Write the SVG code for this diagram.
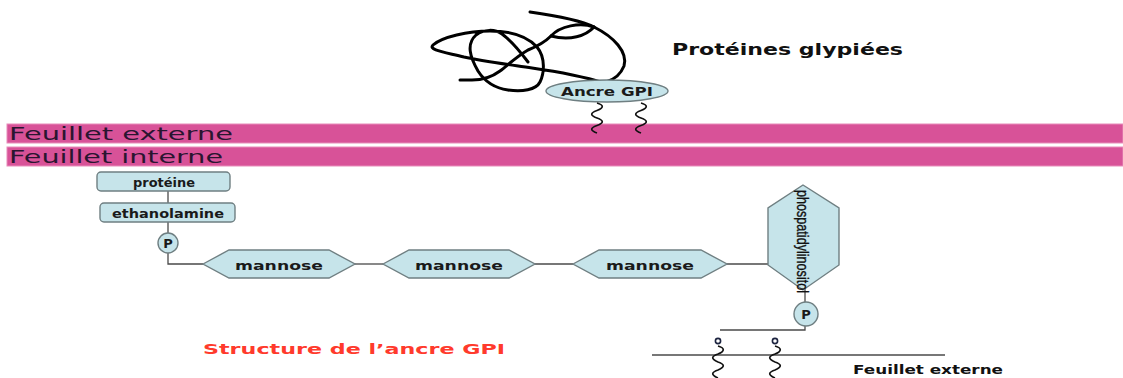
<svg xmlns="http://www.w3.org/2000/svg" width="1123" height="378" viewBox="0 0 1123 378">
  <defs>
    <style>
      .band { fill: #d85298; stroke: #e88cba; stroke-width: 1; }
      .bandtxt { font-family: "DejaVu Sans", "Liberation Sans", sans-serif; font-size: 17px; fill: #2a1530; }
      .node { fill: #c6e4ea; stroke: #6f7f82; stroke-width: 1.4; }
      .lbl { font-family: "DejaVu Sans", "Liberation Sans", sans-serif; font-weight: bold; font-size: 13px; fill: #1a1a1a; text-anchor: middle; }
      .link { stroke: #4a4a4a; stroke-width: 1.3; fill: none; }
      .chain { stroke: #111; stroke-width: 1.7; fill: none; }
      .coil { stroke: #000; stroke-width: 3; fill: none; stroke-linecap: round; stroke-linejoin: round; }
      .title { font-family: "DejaVu Sans", "Liberation Sans", sans-serif; font-weight: bold; fill: #111; }
    </style>
  </defs>

  <rect width="1123" height="378" fill="#ffffff"/>

  <!-- membrane leaflets -->
  <g id="feuillet-externe">
    <rect class="band" x="7" y="124" width="1116" height="19"/>
    <text class="bandtxt" x="9" y="140" textLength="224" lengthAdjust="spacingAndGlyphs">Feuillet externe</text>
  </g>
  <g id="feuillet-interne">
    <rect class="band" x="7" y="147" width="1116" height="19"/>
    <text class="bandtxt" x="9" y="163" textLength="214" lengthAdjust="spacingAndGlyphs">Feuillet interne</text>
  </g>

  <!-- coiled protein chain -->
  <g id="proteine-glypiee">
    <path class="coil" d="M530,12 C558,16 580,20 594,27 C614,37 628,52 624,66 C620,76 613,80 606,82"/>
    <path class="coil" d="M594,27 C580,22 560,26 551,36 C544,43 538,46 528,50 C516,57 508,65 500,71 C492,77 482,80 472,80 L460,80"/>
    <path class="coil" d="M594,27 C586,36 570,41 551,36"/>
    <path class="coil" d="M604,83 C585,77 560,72 532,68 C505,64 482,61 464,57 C444,52 428,50 433,45 C442,37 468,31 490,31 C512,31 528,37 537,47 C546,58 544,74 540,82 C536,90 522,92 508,90 C494,88 485,82 478,71 C470,57 466,44 476,35 C484,29 495,29 502,34 C513,42 522,54 528,62"/>
    <text class="title" x="672" y="55" font-size="15.5" textLength="231" lengthAdjust="spacingAndGlyphs">Protéines glypiées</text>
  </g>

  <g id="ancre-gpi">
    <ellipse class="node" cx="607" cy="91" rx="61" ry="11"/>
    <text class="lbl" x="607" y="96" font-size="13.5" textLength="92" lengthAdjust="spacingAndGlyphs">Ancre GPI</text>
    <path class="chain" d="M597,103 c7,2 7,5 0,7.5 c-7,2.5 -7,5 0,7.5 c7,2.5 7,5 0,7.5 c-7,2.5 -7,5 0,7.5"/>
    <path class="chain" d="M641,103 c7,2 7,5 0,7.5 c-7,2.5 -7,5 0,7.5 c7,2.5 7,5 0,7.5 c-7,2.5 -7,5 0,7.5"/>
  </g>

  <!-- connectors of the anchor structure -->
  <g id="connecteurs">
    <line class="link" x1="168" y1="191" x2="168" y2="203"/>
    <line class="link" x1="168" y1="222" x2="168" y2="233"/>
    <polyline class="link" points="168,253 168,264 203,264"/>
    <line class="link" x1="355" y1="264" x2="383" y2="264"/>
    <line class="link" x1="535" y1="264" x2="573" y2="264"/>
    <line class="link" x1="727" y1="264" x2="768" y2="264"/>
    <line class="link" x1="805" y1="289" x2="805" y2="302"/>
    <polyline class="link" points="805,326 805,330 720,330"/>
    <line class="link" x1="652" y1="355" x2="945" y2="355"/>
  </g>

  <g id="proteine">
    <rect class="node" x="97" y="172" width="133" height="19" rx="4"/>
    <text class="lbl" x="164" y="186.5" textLength="62" lengthAdjust="spacingAndGlyphs">protéine</text>
  </g>
  <g id="ethanolamine">
    <rect class="node" x="100" y="203" width="135" height="19" rx="4"/>
    <text class="lbl" x="168" y="217.5" textLength="112" lengthAdjust="spacingAndGlyphs">ethanolamine</text>
  </g>
  <g id="phosphate-1">
    <circle class="node" cx="168" cy="243" r="10"/>
    <text class="lbl" x="168" y="247.5" font-size="11">P</text>
  </g>

  <g id="mannose-1">
    <polygon class="node" points="203,264 229,250 329,250 355,264 329,278 229,278"/>
    <text class="lbl" x="279" y="269.5" font-size="14.5" textLength="88" lengthAdjust="spacingAndGlyphs">mannose</text>
  </g>
  <g id="mannose-2">
    <polygon class="node" points="383,264 409,250 509,250 535,264 509,278 409,278"/>
    <text class="lbl" x="459" y="269.5" font-size="14.5" textLength="88" lengthAdjust="spacingAndGlyphs">mannose</text>
  </g>
  <g id="mannose-3">
    <polygon class="node" points="573,264 599,250 701,250 727,264 701,278 599,278"/>
    <text class="lbl" x="650" y="269.5" font-size="14.5" textLength="88" lengthAdjust="spacingAndGlyphs">mannose</text>
  </g>

  <g id="phosphatidylinositol">
    <polygon class="node" points="803,185 839,208 839,265 803,290 768,265 768,208"/>
    <text font-family="'Liberation Sans', sans-serif" font-size="16" fill="#111" stroke="#111" stroke-width="0.35" x="0" y="0"
          transform="translate(797,190) rotate(90)" textLength="103" lengthAdjust="spacingAndGlyphs">phospatidylinositol</text>
  </g>
  <g id="phosphate-2">
    <circle class="node" cx="806" cy="314" r="12"/>
    <text class="lbl" x="806" y="318.5" font-size="11">P</text>
  </g>

  <!-- lipid chains anchored in the outer leaflet -->
  <g id="chaines-lipidiques">
    <circle cx="718" cy="341" r="2.6" fill="#fff" stroke="#1d2440" stroke-width="1.6"/>
    <circle cx="775" cy="341" r="2.6" fill="#fff" stroke="#1d2440" stroke-width="1.6"/>
    <path class="chain" d="M718,346 c7,2 7,5 0,8 c-7,2.5 -7,5 0,8 c7,2.5 7,5 0,8 c-7,2.5 -7,5 0,8"/>
    <path class="chain" d="M775,346 c7,2 7,5 0,8 c-7,2.5 -7,5 0,8 c7,2.5 7,5 0,8 c-7,2.5 -7,5 0,8"/>
    <text class="title" x="853" y="374" font-size="12.5" textLength="150" lengthAdjust="spacingAndGlyphs">Feuillet externe</text>
  </g>

  <text id="legende" x="203" y="354" font-family="'DejaVu Sans', 'Liberation Sans', sans-serif" font-weight="bold"
        font-size="14.5" fill="#ff3a2c" textLength="302" lengthAdjust="spacingAndGlyphs">Structure de l’ancre GPI</text>
</svg>
